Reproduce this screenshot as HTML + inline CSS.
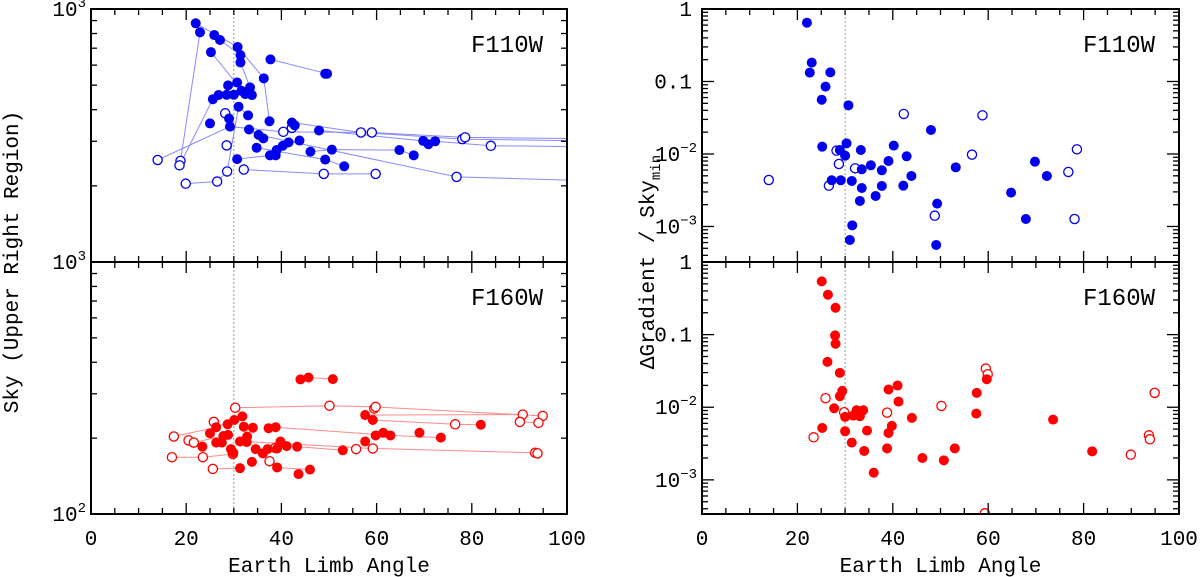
<!DOCTYPE html>
<html><head><meta charset="utf-8"><style>
html,body{margin:0;padding:0;background:#fff;}
svg{display:block;font-family:"Liberation Mono","DejaVu Sans Mono",monospace;}
</style></head>
<body>
<svg id="fig" width="1202" height="577" viewBox="0 0 1202 577" xmlns="http://www.w3.org/2000/svg"></svg>
<script>
// ---------- DATA ----------
const xTicks = [0,20,40,60,80,100];
// Top-left: F110W sky (filled / open), [angle, sky]
const skyF110Filled = [[22.0,878],[22.9,809],[25.9,789],[27.1,754],[25.2,675],[30.8,708],[31.4,657],[31.4,615],[37.7,632],[36.3,532],[49.2,555],[49.6,555],[28.8,499],[30.7,512],[33.4,490],[25.6,440],[26.8,457],[28.5,458],[30.0,458],[31.6,475],[32.4,461],[33.8,457],[31.0,411],[29.0,369],[33.0,380],[37.5,360],[25.0,353],[29.2,343],[33.2,334],[35.2,318],[36.2,308],[42.2,356],[42.8,347],[47.9,331],[43.8,302],[41.5,297],[40.3,288],[39.0,277],[34.8,283],[37.6,264],[38.8,264],[46.1,273],[50.6,278],[49.2,254],[53.2,239],[30.7,255],[64.8,277],[67.8,264],[69.8,301],[70.9,292],[72.3,300]];
const skyF110Open = [[14.0,253],[18.8,251],[18.6,241],[19.9,204],[26.5,208],[28.6,228],[32.1,232],[48.9,223],[59.8,223],[76.8,217],[28.5,289],[28.2,387],[40.4,327],[42.2,339],[56.7,325],[59.0,325],[78.0,306],[78.6,311],[84.0,288]];
const skyF110Tracks = [
 [[22.9,809],[18.8,251]],
 [[22.0,878],[30.8,708],[36.3,532],[37.5,360]],
 [[25.9,789],[27.1,754],[31.4,657],[31.4,615],[33.4,490]],
 [[25.2,675],[32.4,461]],
 [[37.7,632],[49.6,555]],
 [[14.0,253],[29.2,343],[40.4,327],[59.0,325],[78.6,311],[110,306]],
 [[42.2,356],[56.7,325],[78.0,306],[110,300]],
 [[18.6,241],[25.6,440],[30.0,458],[33.8,457]],
 [[19.9,204],[26.5,208],[28.6,228],[31.0,411],[33.0,380]],
 [[32.1,232],[48.9,223],[59.8,223]],
 [[30.7,255],[37.6,264],[38.8,264],[41.5,297],[43.8,302]],
 [[33.2,334],[35.2,318],[76.8,217],[110,208]],
 [[47.9,331],[69.8,301],[72.3,300],[84.0,288],[110,285]],
 [[46.1,273],[50.6,278],[64.8,277],[67.8,264]],
 [[34.8,283],[49.2,254],[53.2,239]]
];
// Bottom-left: F160W sky
const skyF160Filled = [[44.0,342],[45.7,348],[50.8,343],[57.6,247],[59.2,236],[81.9,226],[31.8,244],[30.1,236],[28.7,227],[26.3,221],[25.0,209],[32.1,222],[34.0,220],[37.3,219],[38.8,221],[28.8,206],[27.8,204],[26.3,192],[27.5,192],[23.4,185],[31.3,194],[32.7,193],[32.8,203],[29.4,181],[29.9,175],[34.6,181],[36.1,174],[37.1,181],[39.1,182],[39.8,194],[41.1,186],[43.3,185],[52.9,179],[57.6,194],[59.8,205],[61.4,210],[62.9,205],[69.0,210],[73.5,201],[31.3,152],[33.8,161],[39.1,153],[43.6,144],[46.0,150]];
const skyF160Open = [[30.3,264],[50.1,269],[59.5,262],[59.8,266],[90.7,248],[94.9,245],[90.1,232],[94.0,230],[76.5,227],[25.8,232],[17.4,203],[20.5,196],[21.6,192],[17.0,168],[23.5,168],[25.6,151],[29.8,173],[37.5,162],[55.7,181],[59.2,182],[93.3,175],[93.8,174],[38.7,183]];
const skyF160Tracks = [
 [[44.0,342],[45.7,348],[50.8,343]],
 [[30.3,264],[50.1,269],[59.8,266],[94.9,245]],
 [[57.6,247],[90.7,248]],
 [[59.2,236],[76.5,227],[81.9,226]],
 [[90.1,232],[94.0,230]],
 [[38.8,221],[62.9,205],[73.5,201]],
 [[17.4,203],[26.3,221],[30.1,236]],
 [[20.5,196],[21.6,192],[27.8,204],[28.8,206]],
 [[17.0,168],[23.5,168],[29.8,173]],
 [[25.6,151],[31.3,152]],
 [[39.1,153],[46.0,150]],
 [[43.3,185],[52.9,179]],
 [[30.0,195],[59.2,182],[93.3,175]],
 [[36.1,174],[37.1,181],[39.8,194]]
];
// Top-right: F110W gradient (log10 of ΔGradient/Sky_min)
const gradF110Filled = [[22.0,-0.189],[23.0,-0.740],[22.6,-0.878],[26.9,-0.874],[25.9,-1.071],[25.1,-1.251],[30.7,-1.329],[25.2,-1.899],[28.9,-1.945],[30.3,-1.853],[30.0,-2.023],[33.3,-1.945],[40.2,-1.885],[42.9,-2.032],[48.0,-1.669],[39.1,-2.097],[35.4,-2.156],[33.5,-2.211],[37.7,-2.225],[43.9,-2.303],[53.2,-2.184],[27.2,-2.363],[29.1,-2.363],[31.4,-2.372],[33.5,-2.469],[37.7,-2.441],[42.2,-2.437],[36.4,-2.579],[33.1,-2.648],[49.3,-2.685],[64.8,-2.533],[69.8,-2.106],[72.3,-2.303],[67.9,-2.897],[31.5,-2.984],[31.0,-3.186],[49.1,-3.255]];
const gradF110Open = [[14.0,-2.359],[26.6,-2.437],[28.2,-1.954],[28.7,-2.138],[32.1,-2.198],[42.3,-1.448],[58.8,-1.467],[56.6,-2.009],[78.6,-1.936],[76.8,-2.248],[48.8,-2.851],[78.1,-2.897]];
// Bottom-right: F160W gradient
const gradF160Filled = [[25.1,-0.267],[26.4,-0.451],[28.0,-0.630],[27.9,-1.011],[28.0,-1.126],[26.3,-1.375],[28.9,-1.526],[29.4,-1.775],[28.9,-1.848],[27.7,-2.014],[25.2,-2.285],[30.0,-2.133],[31.7,-2.115],[32.4,-2.041],[33.8,-2.041],[33.1,-2.124],[30.0,-2.331],[34.6,-2.322],[31.4,-2.487],[34.0,-2.602],[36.0,-2.901],[39.1,-1.756],[41.0,-1.701],[41.2,-1.922],[39.8,-2.257],[39.1,-2.354],[38.8,-2.566],[44.0,-2.147],[46.2,-2.699],[50.7,-2.731],[53.0,-2.566],[57.6,-1.802],[57.5,-2.087],[59.7,-1.614],[73.6,-2.170],[81.8,-2.607]];
const gradF160Open = [[23.4,-2.414],[25.9,-1.876],[29.8,-2.069],[38.8,-2.074],[50.2,-1.982],[59.5,-1.467],[59.9,-1.545],[94.9,-1.802],[93.7,-2.386],[93.9,-2.441],[89.9,-2.653],[59.3,-3.46]];

// ---------- DRAWING ----------
const NS="http://www.w3.org/2000/svg";
const svg=document.getElementById('fig');
function mk(tag,attrs,parent){const e=document.createElementNS(NS,tag);for(const k in attrs)e.setAttribute(k,attrs[k]);(parent||svg).appendChild(e);return e;}

const L={x0:91,x1:567}, R={x0:702,x1:1179};
const TOP={y0:9,y1:262}, BOT={y0:262,y1:514};
function xs(P){return a=>P.x0+(a/100)*(P.x1-P.x0);}
function ysLog(B,lo,hi){return v=>B.y1-(Math.log10(v)-lo)/(hi-lo)*(B.y1-B.y0);}
function ysExp(B,lo,hi){return e=>B.y1-(e-lo)/(hi-lo)*(B.y1-B.y0);}

function panel(name,P,B,ymap,minorYs,majorYs,label,fill,lineCol,filled,open,tracks){
  const g=mk('g',{});
  
  
  const X=xs(P);
  const cid='clip-'+name;
  const cp=mk('clipPath',{id:cid},g); mk('rect',{x:P.x0,y:B.y0,width:P.x1-P.x0,height:B.y1-B.y0},cp);
  const dl=mk('line',{x1:X(30),x2:X(30),y1:B.y0,y2:B.y1,stroke:'#999','stroke-width':1,'stroke-dasharray':'2,2'},g);
  
  
  const dg=mk('g',{'clip-path':'url(#'+cid+')'},g);
  (tracks||[]).forEach(t=>{
    const pl=mk('polyline',{points:t.map(p=>X(p[0])+','+ymap(p[1])).join(' '),fill:'none',stroke:lineCol,'stroke-width':1},dg);
    
    
  });
  open.forEach(p=>{
    const c=mk('circle',{cx:X(p[0]),cy:ymap(p[1]),r:4.6,fill:'#fff',stroke:fill,'stroke-width':1.3},dg);
    
    
  });
  filled.forEach(p=>{
    const c=mk('circle',{cx:X(p[0]),cy:ymap(p[1]),r:5,fill:fill},dg);
    
    
  });
  for(let a=0;a<=100;a+=5){
    const len=(a%20===0)?11:6, x=X(a);
    mk('line',{x1:x,x2:x,y1:B.y1,y2:B.y1-len,stroke:'#000','stroke-width':1.3},g);
    mk('line',{x1:x,x2:x,y1:B.y0,y2:B.y0+len,stroke:'#000','stroke-width':1.3},g);
  }
  minorYs.forEach(y=>{
    mk('line',{x1:P.x0,x2:P.x0+6,y1:y,y2:y,stroke:'#000','stroke-width':1.3},g);
    mk('line',{x1:P.x1,x2:P.x1-6,y1:y,y2:y,stroke:'#000','stroke-width':1.3},g);
  });
  majorYs.forEach(y=>{
    mk('line',{x1:P.x0,x2:P.x0+12,y1:y,y2:y,stroke:'#000','stroke-width':1.3},g);
    mk('line',{x1:P.x1,x2:P.x1-12,y1:y,y2:y,stroke:'#000','stroke-width':1.3},g);
  });
  const fr=mk('rect',{x:P.x0,y:B.y0,width:P.x1-P.x0,height:B.y1-B.y0,fill:'none',stroke:'#000','stroke-width':2},g);
  
  
  const t=mk('text',{x:P.x1-24,y:B.y0+43,'text-anchor':'end','font-size':24,fill:'#000'},g);
  t.textContent=label;
  
  
}

function leftTicks(ymap){const m=[],M=[];for(let v=100;v<=1000;v+=100){(v===100||v===1000?M:m).push(ymap(v));}return [m,M];}
const ylT=ysLog(TOP,2,3), ylB=ysLog(BOT,2,3);
let tk=leftTicks(ylT);
panel('panel-f110w-sky',L,TOP,ylT,tk[0],tk[1],'F110W','#0000ee','#8a8aff',skyF110Filled,skyF110Open,skyF110Tracks);
tk=leftTicks(ylB);
panel('panel-f160w-sky',L,BOT,ylB,tk[0],tk[1],'F160W','#ff0000','#ff8a8a',skyF160Filled,skyF160Open,skyF160Tracks);

function rightTicks(ymap,lo){const m=[],M=[];for(let d=-4;d<=0;d++){if(d>=lo-0.001)M.push(ymap(d));for(let k=2;k<=9;k++){const e=d+Math.log10(k);if(e>lo&&e<0)m.push(ymap(e));}}return [m,M];}
const yrT=ysExp(TOP,-3.49,0), yrB=ysExp(BOT,-3.47,0);
tk=rightTicks(yrT,-3.49);
panel('panel-f110w-gradient',R,TOP,yrT,tk[0],tk[1],'F110W','#0000ee','#8a8aff',gradF110Filled,gradF110Open,null);
tk=rightTicks(yrB,-3.47);
panel('panel-f160w-gradient',R,BOT,yrB,tk[0],tk[1],'F160W','#ff0000','#ff8a8a',gradF160Filled,gradF160Open,null);

[L,R].forEach((P,i)=>{
  const X=xs(P);
  xTicks.forEach(a=>{
    const t=mk('text',{x:X(a),y:545,'text-anchor':'middle','font-size':21});
    t.textContent=String(a);
    
    
  });
  const at=mk('text',{x:(P.x0+P.x1)/2,y:572,'text-anchor':'middle','font-size':21});
  at.textContent='Earth Limb Angle';
  
  
});

function powLabel(x,y,base,exp){
  const t=mk('text',{x:x,y:y+7,'text-anchor':'end','font-size':21});
  
  
  if(exp===null){t.textContent=base;return;}
  const b=mk('tspan',{},t);b.textContent=base;
  const s=mk('tspan',{dy:-9,'font-size':14},t);s.textContent=exp;
}
powLabel(86,9,'10','3');
powLabel(86,262,'10','3');
powLabel(86,514,'10','2');
const rLab=[['1',null],['0.1',null],['10','−2'],['10','−3']];
rLab.forEach((l,i)=>{powLabel(l[1]?697:692,yrT(-i),l[0],l[1]);});
rLab.forEach((l,i)=>{powLabel(l[1]?697:692,yrB(-i),l[0],l[1]);});

const yl=mk('text',{x:0,y:0,'text-anchor':'middle','font-size':21,transform:'translate(18,262) rotate(-90)'});
yl.textContent='Sky (Upper Right Region)';


const yr=mk('text',{x:0,y:0,'text-anchor':'middle','font-size':21,transform:'translate(654,262) rotate(-90)'});


const a1=mk('tspan',{},yr);a1.textContent='ΔGradient / Sky';
const a2=mk('tspan',{dy:6,'font-size':14},yr);a2.textContent='min';
</script>
</body></html>
